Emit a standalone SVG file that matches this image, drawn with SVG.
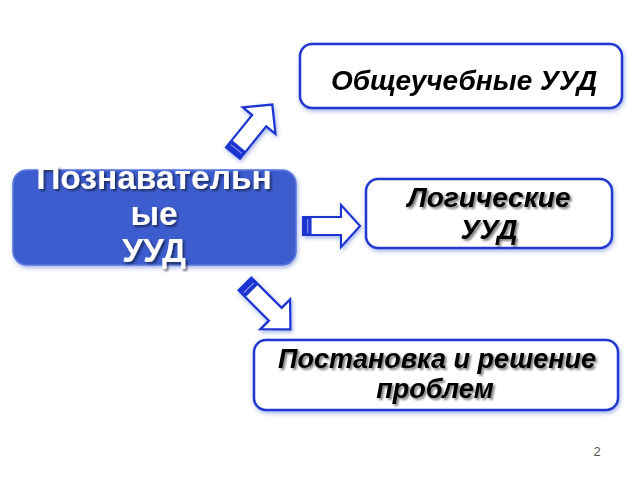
<svg xmlns="http://www.w3.org/2000/svg" xmlns:xlink="http://www.w3.org/1999/xlink" width="640" height="480" viewBox="0 0 640 480">
  <defs>
    <filter id="glow" x="-10%" y="-20%" width="120%" height="140%">
      <feGaussianBlur in="SourceAlpha" stdDeviation="2"/>
      <feOffset dx="1" dy="2" result="b"/>
      <feFlood flood-color="#3050d0" flood-opacity="0.45"/>
      <feComposite in2="b" operator="in"/>
      <feMerge><feMergeNode/><feMergeNode in="SourceGraphic"/></feMerge>
    </filter>
    <filter id="tshadow" x="-10%" y="-20%" width="120%" height="150%">
      <feGaussianBlur in="SourceAlpha" stdDeviation="1.2"/>
      <feOffset dx="1.5" dy="2" result="b"/>
      <feFlood flood-color="#000" flood-opacity="0.5"/>
      <feComposite in2="b" operator="in"/>
      <feMerge><feMergeNode/><feMergeNode in="SourceGraphic"/></feMerge>
    </filter>
    <filter id="wshadow" x="-10%" y="-20%" width="120%" height="150%">
      <feGaussianBlur in="SourceAlpha" stdDeviation="1"/>
      <feOffset dx="2" dy="2" result="b"/>
      <feFlood flood-color="#000" flood-opacity="0.5"/>
      <feComposite in2="b" operator="in"/>
      <feMerge><feMergeNode/><feMergeNode in="SourceGraphic"/></feMerge>
    </filter>
    <g id="arrow">
      <path d="M0,-9 L40,-9 L40,-21 L60,0 L40,21 L40,9 L0,9 Z" fill="#fff" stroke="#1f35d0" stroke-width="2.2" stroke-linejoin="miter"/>
      <rect x="0" y="-9" width="9" height="18" fill="#1f35d0"/>
      <line x1="5" y1="-7" x2="5" y2="7" stroke="#8fa0f0" stroke-width="1"/>
    </g>
    <style>
      .box { fill: #fff; stroke: #2238d0; stroke-width: 2.5; }
      .lbl { font-family: "Liberation Sans", Arial, sans-serif; font-weight: bold; font-style: italic; fill: #000; text-anchor: middle; font-size: 28px; }
      .main { font-family: "Liberation Sans", Arial, sans-serif; font-weight: bold; fill: #fff; text-anchor: middle; font-size: 33.5px; }
    </style>
  </defs>

  <rect width="640" height="480" fill="#fff"/>

  <g id="connectors" filter="url(#glow)">
    <use xlink:href="#arrow" transform="translate(233,153) rotate(-51) scale(1.04,1)"/>
    <use xlink:href="#arrow" transform="translate(303,226) scale(0.95,1)"/>
    <use xlink:href="#arrow" transform="translate(245,284) rotate(45) scale(1.07,1)"/>
  </g>

  <g id="node-main">
    <rect x="13" y="170" width="283" height="95" rx="14" fill="#3d5ccd" stroke="#5a78dc" stroke-width="1.5" filter="url(#glow)"/>
    <g class="main" filter="url(#wshadow)">
      <text x="154" y="189">Познавательн</text>
      <text x="154" y="225">ые</text>
      <text x="154" y="262">УУД</text>
    </g>
  </g>

  <g id="node-general">
    <rect class="box" x="300" y="44" width="322" height="64" rx="12" filter="url(#glow)"/>
    <text class="lbl" x="464" y="90">Общеучебные УУД</text>
  </g>

  <g id="node-logic">
    <rect class="box" x="366" y="179" width="246" height="69" rx="12" filter="url(#glow)"/>
    <g class="lbl" filter="url(#tshadow)">
      <text x="489" y="207">Логические</text>
      <text x="489" y="239">УУД</text>
    </g>
  </g>

  <g id="node-problems">
    <rect class="box" x="254" y="340" width="364" height="70" rx="12" filter="url(#glow)"/>
    <g class="lbl" font-size="27" filter="url(#tshadow)">
      <text x="437" y="368" style="font-size:27px">Постановка и решение</text>
      <text x="435" y="398" style="font-size:27px">проблем</text>
    </g>
  </g>

  <text x="597" y="456" font-family="Liberation Sans, Arial, sans-serif" font-size="13" fill="#555" text-anchor="middle">2</text>
</svg>
